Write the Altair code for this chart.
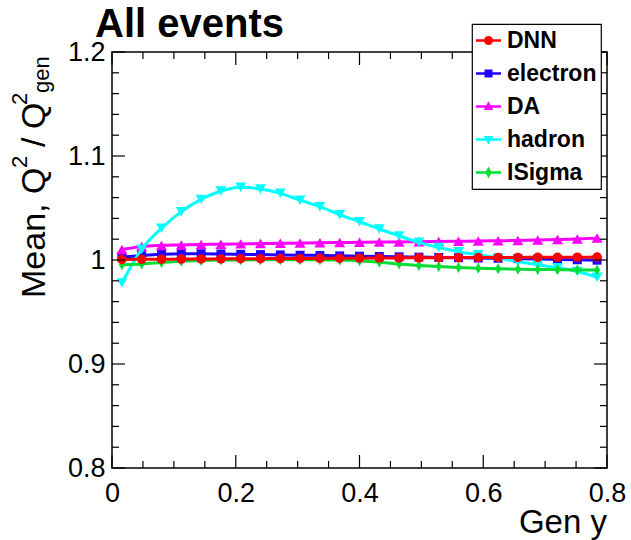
import altair as alt
import pandas as pd

# ---------------- data ----------------
x_centers = [0.016, 0.048, 0.080, 0.112, 0.144, 0.176, 0.208, 0.240, 0.272, 0.304,
             0.336, 0.368, 0.400, 0.432, 0.464, 0.496, 0.528, 0.560, 0.592, 0.624,
             0.656, 0.688, 0.720, 0.752, 0.784]

names = ["DNN", "electron", "DA", "hadron", "ISigma"]
colors = ["#ff0000", "#2200ff", "#ff00ff", "#00ffff", "#00dd33"]

dnn = [1.0005, 1.0007, 1.0008, 1.0009, 1.0010, 1.0011, 1.0012, 1.0013, 1.0014, 1.0015,
       1.0016, 1.0017, 1.0018, 1.0019, 1.0020, 1.0021, 1.0022, 1.0023, 1.0024, 1.0025,
       1.0025, 1.0026, 1.0026, 1.0027, 1.0028]
electron = [1.0030, 1.0042, 1.0055, 1.0060, 1.0060, 1.0058, 1.0055, 1.0052, 1.0049, 1.0046,
            1.0043, 1.0040, 1.0037, 1.0034, 1.0031, 1.0028, 1.0025, 1.0022, 1.0019, 1.0016,
            1.0013, 1.0010, 1.0006, 1.0002, 0.9998]
da = [1.0100, 1.0130, 1.0140, 1.0145, 1.0150, 1.0152, 1.0155, 1.0158, 1.0160, 1.0163,
      1.0166, 1.0168, 1.0170, 1.0172, 1.0174, 1.0176, 1.0178, 1.0180, 1.0182, 1.0185,
      1.0188, 1.0192, 1.0197, 1.0203, 1.0212]
hadron = [0.9780, 1.0103, 1.0305, 1.0465, 1.0583, 1.0663, 1.0700, 1.0683, 1.0641, 1.0575,
          1.0513, 1.0435, 1.0368, 1.0298, 1.0232, 1.0170, 1.0120, 1.0080, 1.0050, 1.0020,
          0.9985, 0.9955, 0.9925, 0.9890, 0.9835]
isigma = [0.9955, 0.9962, 0.9975, 0.9988, 0.9995, 0.9999, 1.0001, 1.0002, 1.0002, 1.0002,
          1.0001, 1.0000, 0.9993, 0.9978, 0.9962, 0.9948, 0.9937, 0.9928, 0.9921, 0.9916,
          0.9912, 0.9909, 0.9907, 0.9905, 0.9904]

series_values = {"DNN": dnn, "electron": electron, "DA": da, "hadron": hadron, "ISigma": isigma}

x_major = [0, 0.2, 0.4, 0.6, 0.8]
x_minor = [0.05, 0.1, 0.15, 0.25, 0.3, 0.35, 0.45, 0.5, 0.55, 0.65, 0.7, 0.75]
y_major = [0.8, 0.9, 1.0, 1.1, 1.2]
y_minor = [0.82, 0.84, 0.86, 0.88, 0.92, 0.94, 0.96, 0.98, 1.02, 1.04, 1.06, 1.08,
           1.12, 1.14, 1.16, 1.18]

# ---------------- styling ----------------
W, H = 495, 416
FONT = "Liberation Sans"
color_of = dict(zip(names, colors))
marker_of = {
    "DNN": ("circle", 90),
    "electron": ("square", 80),
    "DA": ("triangle-up", 120),
    "hadron": ("triangle-down", 120),
    "ISigma": ("M0,-1L0.55,0L0,1L-0.55,0Z", 120),
}
LINE = "M-1,-0.1H1V0.1H-1Z "
legend_paths = {
    "DNN": LINE + "M0.36,0A0.36,0.36 0 1,1 -0.36,0A0.36,0.36 0 1,1 0.36,0Z",
    "electron": LINE + "M-0.32,-0.32H0.32V0.32H-0.32Z",
    "DA": LINE + "M0,-0.42L0.38,0.28H-0.38Z",
    "hadron": LINE + "M0,0.42L-0.38,-0.28H0.38Z",
    "ISigma": LINE + "M0,-0.46L0.26,0L0,0.46L-0.26,0Z",
}

xscale = alt.Scale(domain=[0, 0.8], nice=False, zero=False)
yscale = alt.Scale(domain=[0.8, 1.2], nice=False, zero=False)
xaxis = alt.Axis(values=x_major, format="~g", ticks=False, domain=False, grid=False,
                 labelFontSize=27, labelFont=FONT, labelColor="black", labelPadding=12,
                 labelFlush=False, title=None)
yaxis = alt.Axis(values=y_major, format="~g", ticks=False, domain=False, grid=False,
                 labelFontSize=27, labelFont=FONT, labelColor="black", labelPadding=7,
                 title=None)


def X(field="x"):
    return alt.X(f"{field}:Q", scale=xscale, axis=xaxis)


def Y(field="y"):
    return alt.Y(f"{field}:Q", scale=yscale, axis=yaxis)


layers = []

# series: lines + markers, drawn so that DNN ends up on top
draw_order = ["electron", "DA", "hadron", "ISigma", "DNN"]
for name in draw_order:
    df = pd.DataFrame({"x": x_centers, "y": series_values[name]})
    shape, size = marker_of[name]
    line = alt.Chart(df).mark_line(color=color_of[name], strokeWidth=3, interpolate="monotone").encode(
        x=X(), y=Y())
    pts = alt.Chart(df).mark_point(color=color_of[name], filled=True, opacity=1,
                                   shape=shape, size=size, strokeWidth=0).encode(x=X(), y=Y())
    layers += [line, pts]

# inward ticks on all four sides
for vals, ln in [(x_major, 13), (x_minor, 7)]:
    tdf = pd.DataFrame({"x": vals})
    layers.append(alt.Chart(tdf).mark_rule(color="black", strokeWidth=1.2).encode(
        x=X(), y=alt.value(H), y2=alt.value(H - ln)))
    layers.append(alt.Chart(tdf).mark_rule(color="black", strokeWidth=1.2).encode(
        x=X(), y=alt.value(0), y2=alt.value(ln)))
for vals, ln in [(y_major, 13), (y_minor, 7)]:
    tdf = pd.DataFrame({"y": vals})
    layers.append(alt.Chart(tdf).mark_rule(color="black", strokeWidth=1.2).encode(
        y=Y(), x=alt.value(0), x2=alt.value(ln)))
    layers.append(alt.Chart(tdf).mark_rule(color="black", strokeWidth=1.2).encode(
        y=Y(), x=alt.value(W), x2=alt.value(W - ln)))

# legend (symbols = line + marker)
leg_df = pd.DataFrame({"series": names})
legend_layer = alt.Chart(leg_df).mark_point(filled=True, opacity=0, size=625).encode(
    color=alt.Color("series:N", scale=alt.Scale(domain=names, range=colors),
                    legend=alt.Legend(title=None)),
    shape=alt.Shape("series:N", scale=alt.Scale(domain=names, range=[legend_paths[n] for n in names]),
                    legend=alt.Legend(title=None)),
)
layers.append(legend_layer)

# texts: title, axis titles
one = pd.DataFrame({"a": [0]})


def txt(s, x, y, size, weight="normal", align="left", angle=0, baseline="alphabetic"):
    kw = dict(fontSize=size, font=FONT, fontWeight=weight, align=align, baseline=baseline,
              color="black")
    if angle:
        kw["angle"] = angle
    return alt.Chart(one).mark_text(**kw).encode(x=alt.value(x), y=alt.value(y), text=alt.value(s))


layers.append(txt("All events", -17, -15, 40, weight="bold"))
layers.append(txt("Gen y", W, 481, 33, align="right"))

# y-axis title pieces: "Mean, Q² / Q²gen" rotated
bx = -67
layers.append(txt("Mean, Q", bx, 246, 34, angle=270))
layers.append(txt("2", bx - 18, 116, 22, angle=270))
layers.append(txt("/", bx, 95, 34, angle=270))
layers.append(txt("Q", bx, 77, 34, angle=270))
layers.append(txt("2", bx - 18, 53, 22, angle=270))
layers.append(txt("gen", bx + 4, 41, 22, angle=270))

chart = alt.layer(*layers).properties(
    width=W, height=H,
    autosize=alt.AutoSizeParams(type="none"),
    padding={"left": 112, "top": 52, "right": 24, "bottom": 72},
).configure_view(
    stroke="black", strokeWidth=1.5
).configure_legend(
    orient="none", legendX=360, legendY=-28,
    padding=4, rowPadding=8, labelOffset=6,
    labelFont=FONT, labelFontSize=23, labelFontWeight="bold", labelColor="black",
    symbolSize=625, symbolStrokeWidth=0, symbolOpacity=1,
    fillColor="white", strokeColor="black", strokeWidth=1.2,
    labelLimit=300,
)

chart.save("out.html", embed_options={"renderer": "svg", "actions": False})
